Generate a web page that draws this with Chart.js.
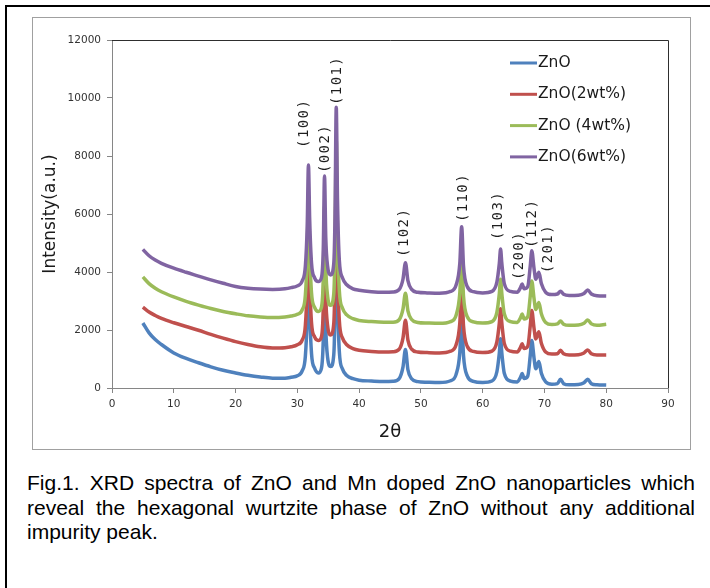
<!DOCTYPE html>
<html>
<head>
<meta charset="utf-8">
<script src="https://cdn.jsdelivr.net/npm/chart.js@4/dist/chart.umd.min.js"></script>
<style>
  html, body { margin: 0; padding: 0; background: #fff; }
  body { width: 710px; height: 588px; position: relative; overflow: hidden; }
  #sheet {
    position: absolute; left: 5px; top: 5px; right: -20px; bottom: -20px;
    border-left: 2px solid #000; border-top: 2px solid #000;
  }
  #frame {
    position: absolute; left: 32px; top: 17px; width: 657px; height: 431px;
    border: 1px solid #a0a0a0;
  }
  #xrd { position: absolute; left: 0; top: 0; }
  #caption {
    position: absolute; left: 27px; top: 471px; width: 668px;
    font: 21px "Liberation Sans", Arial, sans-serif; line-height: 24.5px;
    text-align: justify; color: #000;
  }
</style>
</head>
<body>
<div id="sheet"></div>
<div id="frame"></div>
<canvas id="xrd" width="710" height="460"></canvas>
<div id="caption">Fig.1. XRD spectra of ZnO and Mn doped ZnO nanoparticles which reveal the hexagonal wurtzite phase of ZnO without any additional impurity peak.</div>

<script>
// ── Data ───────────────────────────────────────────────────────────────────
const TWO_THETA = [
  5, 6, 7, 8, 10, 12, 14, 16, 18, 20,
  22, 24, 26, 28, 29, 30, 30.8, 31.3, 31.6, 31.8,
  32.0, 32.3, 32.8, 33.4, 33.9, 34.2, 34.4, 34.6, 34.9, 35.4,
  35.9, 36.1, 36.3, 36.5, 36.8, 37.3, 38, 39, 40, 42,
  44, 45.5, 46.5, 47.1, 47.5, 47.9, 48.5, 49.5, 51, 53,
  54.8, 55.7, 56.3, 56.6, 56.9, 57.5, 58.5, 60, 61.5, 62.3,
  62.7, 62.9, 63.1, 63.5, 64.5, 65.6, 66.1, 66.4, 66.7, 67.3,
  67.7, 67.95, 68.3, 68.6, 69.1, 69.5, 70.2, 71.2, 72.1, 72.6,
  73.1, 74, 75.5, 76.4, 77, 77.6, 78.5, 80,
];

const ZNO = [
  2240, 1900, 1670, 1500, 1210, 1020, 870, 730, 610, 520,
  440, 380, 340, 340, 370, 420, 600, 1100, 2500, 4600,
  2680, 1180, 680, 520, 680, 1700, 4250, 2100, 1050, 740,
  1150, 2750, 6500, 3350, 1250, 660, 430, 320, 270, 240,
  220, 230, 330, 720, 1330, 630, 320, 220, 200, 190,
  250, 470, 1220, 2480, 1120, 420, 230, 190, 240, 560,
  1210, 1700, 1210, 510, 240, 210, 360, 500, 330, 410,
  1110, 1640, 1060, 660, 910, 510, 210, 130, 150, 300,
  150, 110, 120, 180, 300, 150, 110, 100,
];

const ZNO_2WT = [
  2790, 2620, 2500, 2400, 2250, 2120, 1990, 1850, 1720, 1600,
  1500, 1420, 1380, 1390, 1420, 1490, 1660, 2160, 3560, 5640,
  3720, 2240, 1760, 1640, 1760, 2760, 5250, 3140, 2150, 1830,
  2230, 3830, 7580, 4420, 2320, 1730, 1490, 1360, 1300, 1260,
  1240, 1250, 1340, 1720, 2340, 1650, 1340, 1240, 1220, 1210,
  1270, 1490, 2240, 3500, 2140, 1440, 1260, 1220, 1270, 1590,
  2240, 2730, 2240, 1540, 1270, 1240, 1390, 1530, 1360, 1440,
  2140, 2670, 2090, 1690, 1940, 1540, 1240, 1170, 1180, 1300,
  1180, 1140, 1150, 1210, 1310, 1180, 1140, 1140,
];

const ZNO_4WT = [
  3830, 3600, 3440, 3320, 3140, 2990, 2860, 2740, 2640, 2560,
  2490, 2450, 2430, 2450, 2480, 2540, 2700, 3200, 4600, 6650,
  4750, 3270, 2780, 2640, 2780, 3780, 6280, 4170, 3170, 2850,
  3250, 4850, 8600, 5450, 3350, 2760, 2520, 2390, 2330, 2290,
  2270, 2270, 2360, 2720, 3270, 2660, 2360, 2260, 2240, 2230,
  2290, 2510, 3270, 4520, 3160, 2460, 2280, 2240, 2290, 2610,
  3260, 3750, 3260, 2560, 2290, 2260, 2410, 2550, 2380, 2460,
  3160, 3690, 3110, 2710, 2950, 2560, 2260, 2190, 2210, 2310,
  2200, 2160, 2170, 2230, 2345, 2210, 2160, 2200,
];

const ZNO_6WT = [
  4780, 4560, 4410, 4300, 4130, 3990, 3860, 3730, 3610, 3500,
  3440, 3410, 3400, 3420, 3460, 3520, 3700, 4200, 5600, 7690,
  5800, 4300, 3800, 3670, 3800, 4800, 7310, 5200, 4200, 3900,
  4300, 5900, 9680, 6500, 4400, 3800, 3560, 3420, 3370, 3320,
  3300, 3310, 3400, 3750, 4320, 3700, 3400, 3300, 3280, 3270,
  3330, 3550, 4300, 5560, 4200, 3500, 3320, 3280, 3330, 3650,
  4300, 4790, 4300, 3600, 3330, 3300, 3450, 3590, 3420, 3500,
  4200, 4730, 4150, 3750, 3990, 3600, 3300, 3220, 3240, 3340,
  3230, 3190, 3200, 3260, 3380, 3240, 3180, 3170,
];

const SERIES_NAMES  = ['ZnO', 'ZnO(2wt%)', 'ZnO (4wt%)', 'ZnO(6wt%)'];
const SERIES_COLORS = ['#4f81bd', '#c0504d', '#9bbb59', '#8064a2'];

// Miller indices and where each label starts (2θ, intensity)
const PEAK_HKL   = ['(100)', '(002)', '(101)', '(102)', '(110)', '(103)', '(200)', '(112)', '(201)'];
const PEAK_ANGLE = [31.2, 34.5, 36.5, 47.3, 56.8, 62.5, 66.0, 68.1, 70.7];
const PEAK_LABEL_Y = [8280, 7410, 9760, 4520, 5720, 5100, 3720, 4830, 3960];

// ── Plugins ────────────────────────────────────────────────────────────────
const plotFrame = {
  id: 'plotFrame',
  afterDatasetsDraw(chart) {
    const { ctx, chartArea: a } = chart;
    ctx.save();
    ctx.strokeStyle = '#2e2e2e';
    ctx.lineWidth = 1;
    ctx.beginPath();
    ctx.moveTo(a.left, a.top + 0.5);
    ctx.lineTo(a.right + 0.5, a.top + 0.5);
    ctx.lineTo(a.right + 0.5, a.bottom);
    ctx.stroke();
    ctx.restore();
  },
};

const peakLabels = {
  id: 'peakLabels',
  afterDatasetsDraw(chart) {
    const { ctx, scales: { x, y } } = chart;
    ctx.save();
    ctx.fillStyle = '#1e1e1e';
    ctx.font = '14px "DejaVu Sans Mono", monospace';
    ctx.letterSpacing = '1.4px';
    ctx.textAlign = 'left';
    ctx.textBaseline = 'middle';
    PEAK_HKL.forEach((hkl, i) => {
      ctx.save();
      ctx.translate(x.getPixelForValue(PEAK_ANGLE[i]), y.getPixelForValue(PEAK_LABEL_Y[i]));
      ctx.rotate(-Math.PI / 2);
      ctx.fillText(hkl, 0, 0);
      ctx.restore();
    });
    ctx.restore();
  },
};

const sideLegend = {
  id: 'sideLegend',
  afterDraw(chart) {
    const { ctx, chartArea: a } = chart;
    ctx.save();
    ctx.font = '15.5px "DejaVu Sans", sans-serif';
    ctx.textBaseline = 'middle';
    ctx.textAlign = 'left';
    chart.data.datasets.forEach((ds, i) => {
      const yy = a.top + 23 + i * 31.3;
      ctx.strokeStyle = ds.borderColor;
      ctx.lineWidth = 3;
      ctx.beginPath();
      ctx.moveTo(a.right - 158, yy);
      ctx.lineTo(a.right - 131, yy);
      ctx.stroke();
      ctx.fillStyle = '#1a1a1a';
      ctx.fillText(ds.label, a.right - 130, yy);
    });
    ctx.restore();
  },
};

// ── Chart ──────────────────────────────────────────────────────────────────
const allSeries = [ZNO, ZNO_2WT, ZNO_4WT, ZNO_6WT];

const datasets = allSeries.map((vals, i) => ({
  label: SERIES_NAMES[i],
  data: TWO_THETA.map((t, k) => ({ x: t, y: vals[k] })),
  borderColor: SERIES_COLORS[i],
  backgroundColor: SERIES_COLORS[i],
  order: allSeries.length - 1 - i,   // 6wt% ends up on top
}));

const axisGray = '#868686';
const tickFont = { family: '"DejaVu Sans", sans-serif', size: 10.5 };

new Chart(document.getElementById('xrd'), {
  type: 'line',
  data: { datasets },
  options: {
    responsive: false,
    animation: false,
    layout: { padding: { left: 36, top: 40, right: 42, bottom: 0 } },
    elements: {
      point: { radius: 0 },
      line: { borderWidth: 3.5, cubicInterpolationMode: 'monotone' },
    },
    plugins: { legend: { display: false }, tooltip: { enabled: false } },
    scales: {
      x: {
        type: 'linear', min: 0, max: 90,
        ticks: { stepSize: 10, color: '#333', font: tickFont, padding: 5, maxRotation: 0 },
        grid: { drawOnChartArea: false, drawTicks: true, tickLength: 5, color: axisGray },
        border: { color: axisGray, width: 1 },
        title: {
          display: true, text: '2θ', color: '#1a1a1a',
          font: { family: '"DejaVu Sans", sans-serif', size: 18 },
          padding: { top: 0, bottom: 17 },
        },
        afterFit: s => { s.height = 72; },
      },
      y: {
        type: 'linear', min: 0, max: 12000,
        ticks: { stepSize: 2000, color: '#333', font: tickFont, padding: 6, callback: v => String(v) },
        grid: { drawOnChartArea: false, drawTicks: true, tickLength: 5, color: axisGray },
        border: { color: axisGray, width: 1 },
        title: {
          display: true, text: 'Intensity(a.u.)', color: '#1a1a1a',
          font: { family: '"DejaVu Sans", sans-serif', size: 17 },
          padding: { top: 4, bottom: 0 },
        },
        afterFit: s => { s.width = 76; },
      },
    },
  },
  plugins: [plotFrame, peakLabels, sideLegend],
});
</script>
</body>
</html>
